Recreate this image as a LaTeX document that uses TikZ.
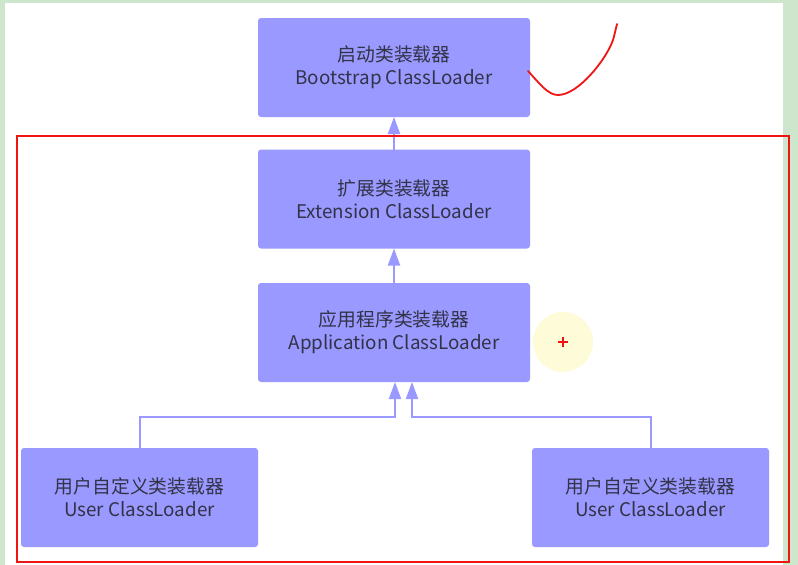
\documentclass[tikz,border=0pt]{standalone}
\usepackage{fontspec}
\newfontfamily\cjk{Noto Sans CJK SC}
\usetikzlibrary{arrows.meta}
\definecolor{boxblue}{RGB}{153,153,255}
\definecolor{txtc}{RGB}{50,50,72}
\definecolor{framegreen}{RGB}{206,230,203}
\definecolor{markred}{RGB}{240,20,20}
\definecolor{spot}{RGB}{254,251,216}
\tikzset{
  loader/.style={fill=boxblue, rounded corners=3pt, inner sep=0pt, outer sep=0pt,
    minimum height=99pt, align=center, text=txtc,
    font=\cjk\fontsize{18.8}{23}\selectfont},
  wide/.style={loader, minimum width=272pt},
  narrow/.style={loader, minimum width=237pt},
  conn/.style={draw=boxblue, line width=2pt, -{Triangle[width=12pt,length=17pt]}},
}
\begin{document}
\begin{tikzpicture}[x=1pt,y=-1pt]
\useasboundingbox (0,0) rectangle (798,565);
\fill[framegreen] (0,0) rectangle (798,565);
\fill[white] (5,3) rectangle (783,565);

\node[wide] (boot) at (394,67.5) {启动类装载器\\Bootstrap ClassLoader};
\node[wide] (ext) at (394,199) {扩展类装载器\\Extension ClassLoader};
\node[wide] (app) at (394,332.5) {应用程序类装载器\\Application ClassLoader};
\node[narrow] (ul) at (139.5,497.5) {用户自定义类装载器\\User ClassLoader};
\node[narrow] (ur) at (650.5,497.5) {用户自定义类装载器\\User ClassLoader};

\coordinate (j1) at (395,417);
\coordinate (j2) at (412,417);

\draw[conn] (ext.north) -- (boot.south);
\draw[conn] (app.north) -- (ext.south);
\draw[conn] (ul.north) |- (j1) -- (j1 |- app.south);
\draw[conn] (ur.north) |- (j2) -- (j2 |- app.south);

\draw[markred, line width=2pt] (17,136) rectangle (789,562);

\fill[spot] (563,342) circle (30);
\draw[markred, line width=1.2pt] (558,342) -- (568,342) (563,337) -- (563,347);

\draw[markred, line width=1.8pt, line cap=round]
  (528,71) .. controls (540,84) and (548,95) .. (558,95)
  .. controls (578,95) and (606,60) .. (613,40)
  .. controls (615,33) and (616,28) .. (617,24);
\end{tikzpicture}
\end{document}
